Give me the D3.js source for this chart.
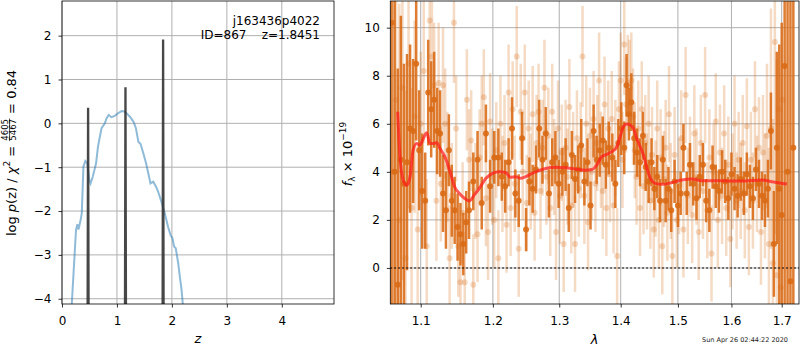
<!DOCTYPE html>
<html>
<head>
<meta charset="utf-8">
<title>Redshift fit</title>
<script src="https://cdn.jsdelivr.net/npm/d3@7"></script>
<style>
  body { margin: 0; background: #fff; }
  text { font-family: "DejaVu Sans", sans-serif; white-space: pre; }
</style>
</head>
<body>
<svg width="800" height="350" id="mainsvg"></svg>
<script>
// ---- left panel: log p(z)
const zGrid = [0.17, 0.255, 0.28, 0.30, 0.34, 0.36, 0.39, 0.424, 0.46, 0.497, 0.52, 0.56, 0.62, 0.655, 0.69, 0.72, 0.78, 0.81, 0.85, 0.90, 0.96, 1.02, 1.085, 1.13, 1.175, 1.236, 1.30, 1.345, 1.39, 1.43, 1.48, 1.53, 1.57, 1.61, 1.66, 1.71, 1.75, 1.81, 1.87, 1.93, 1.975, 2.01, 2.04, 2.07, 2.115, 2.145, 2.176, 2.21];
const logpZ = [-4.3, -2.43, -2.30, -2.42, -2.2, -2.05, -0.99, -0.86, -0.91, -1.29, -1.37, -1.22, -0.91, -0.53, -0.30, -0.11, 0.0, 0.11, 0.19, 0.14, 0.17, 0.23, 0.28, 0.27, 0.23, 0.15, 0.04, -0.11, -0.42, -0.47, -0.68, -0.91, -1.14, -1.37, -1.33, -1.44, -1.56, -1.79, -2.05, -2.36, -2.55, -2.62, -2.81, -2.85, -3.19, -3.50, -3.80, -4.3];
const spikeZ = [0.475, 1.155, 1.84];
const spikePeak = [0.33, 0.80, 1.89];
const zTicks = [0, 1, 2, 3, 4];
const logpTicks = [-4, -3, -2, -1, 0, 1, 2];

// ---- right panel: spectrum
const modelLam = [1.0699, 1.0728, 1.077, 1.0815, 1.086, 1.090, 1.0947, 1.099, 1.1035, 1.108, 1.1124, 1.117, 1.1213, 1.1258, 1.1325, 1.139, 1.1459, 1.1526, 1.1596, 1.1665, 1.1735, 1.1806, 1.190, 1.1996, 1.2093, 1.219, 1.226, 1.2335, 1.241, 1.2484, 1.2584, 1.2685, 1.2787, 1.294, 1.3096, 1.3254, 1.3414, 1.3521, 1.3602, 1.3684, 1.3767, 1.385, 1.3934, 1.399, 1.4046, 1.4102, 1.416, 1.4217, 1.4274, 1.4333, 1.439, 1.445, 1.451, 1.4597, 1.4714, 1.489, 1.507, 1.525, 1.5434, 1.568, 1.5936, 1.626, 1.6596, 1.680, 1.7106];
const modelFlux = [6.5, 4.63, 3.66, 3.44, 3.80, 4.91, 5.18, 5.11, 5.39, 5.63, 5.18, 5.18, 5.21, 4.98, 4.63, 4.07, 3.38, 3.10, 2.90, 2.79, 3.04, 3.31, 3.73, 3.94, 4.00, 3.96, 3.77, 3.80, 3.73, 3.80, 3.94, 4.05, 4.14, 4.19, 4.17, 4.12, 4.07, 4.10, 4.28, 4.63, 4.73, 4.84, 5.04, 5.46, 5.88, 5.99, 5.95, 5.81, 5.39, 5.04, 4.70, 4.15, 3.73, 3.52, 3.48, 3.55, 3.66, 3.70, 3.63, 3.63, 3.62, 3.62, 3.66, 3.59, 3.49];

const darkLam = [1.062, 1.066, 1.070, 1.074, 1.078, 1.082, 1.086, 1.090, 1.094, 1.098, 1.102, 1.106, 1.110, 1.114, 1.118, 1.122, 1.126, 1.130, 1.134, 1.138, 1.142, 1.146, 1.150, 1.154, 1.158, 1.162, 1.166, 1.172, 1.178, 1.184, 1.190, 1.196, 1.202, 1.208, 1.213, 1.218, 1.223, 1.228, 1.233, 1.238, 1.243, 1.249, 1.254, 1.259, 1.264, 1.269, 1.274, 1.279, 1.284, 1.289, 1.294, 1.299, 1.305, 1.310, 1.315, 1.320, 1.325, 1.330, 1.335, 1.340, 1.345, 1.350, 1.355, 1.360, 1.365, 1.370, 1.375, 1.380, 1.386, 1.391, 1.396, 1.401, 1.406, 1.410, 1.414, 1.418, 1.423, 1.428, 1.433, 1.438, 1.443, 1.448, 1.453, 1.458, 1.463, 1.468, 1.473, 1.478, 1.483, 1.488, 1.494, 1.500, 1.505, 1.510, 1.516, 1.522, 1.528, 1.534, 1.540, 1.546, 1.552, 1.558, 1.564, 1.570, 1.576, 1.582, 1.588, 1.594, 1.600, 1.606, 1.612, 1.618, 1.624, 1.630, 1.636, 1.642, 1.648, 1.654, 1.660, 1.666, 1.672, 1.678, 1.684, 1.690, 1.695, 1.700, 1.706, 1.712, 1.718, 1.724];
const darkFlux = [10.2, 4.0, -0.7, 4.5, 3.5, 4.4, 5.8, 5.7, 8.5, 4.9, 3.2, 2.8, 7.3, 6.6, 7.0, 5.7, 5.6, 3.1, 2.4, 4.9, 2.8, 2.4, 1.7, 1.4, 1.0, 1.9, 2.4, 3.6, 4.5, 2.7, 5.6, 3.4, 4.6, 4.6, 3.8, 3.4, 4.4, 5.8, 3.1, 2.8, 5.4, 1.6, 3.6, 3.3, 4.1, 5.8, 4.5, 5.6, 3.1, 4.4, 4.6, 3.5, 4.0, 4.3, 2.5, 4.7, 3.7, 4.1, 5.1, 3.6, 4.4, 2.6, 5.7, 4.5, 4.9, 5.3, 4.3, 5.0, 4.6, 3.5, 5.2, 5.8, 5.0, 7.6, 6.4, 6.9, 5.4, 4.8, 4.4, 5.5, 4.2, 3.6, 4.4, 3.3, 3.8, 2.8, 4.5, 2.8, 3.3, 2.4, 3.6, 2.6, 3.1, 5.0, 3.1, 4.3, 3.5, 2.9, 3.8, 4.3, 2.8, 2.4, 4.2, 3.4, 3.2, 4.0, 3.6, 2.9, 3.9, 3.3, 3.0, 3.7, 3.1, 3.9, 3.4, 2.9, 4.1, 3.5, 3.0, 2.8, 3.3, 5.7, 1.0, 5.0, 3.3, 2.2, 8.4, 4.0, -0.55, 5.0];
const darkErr = [12, 11, 9, 6, 5, 4.5, 3.5, 3.0, 3.2, 2.5, 2.4, 2.0, 2.2, 2.0, 2.0, 1.8, 1.8, 1.6, 1.6, 1.5, 1.5, 1.4, 1.4, 1.3, 1.3, 1.3, 1.2, 1.2, 1.2, 1.1, 1.2, 1.1, 1.1, 1.2, 1.0, 1.1, 1.0, 1.3, 1.0, 1.1, 1.1, 0.9, 1.0, 1.0, 1.0, 1.2, 1.0, 1.1, 1.0, 1.0, 1.1, 1.0, 1.0, 1.1, 1.0, 1.0, 1.0, 1.0, 1.1, 1.0, 1.0, 1.0, 1.1, 1.0, 1.1, 1.0, 1.0, 1.1, 1.0, 1.0, 1.0, 1.1, 1.1, 1.3, 1.1, 1.2, 1.1, 1.0, 1.0, 1.0, 1.0, 0.9, 1.0, 0.9, 0.9, 0.9, 1.0, 0.9, 0.9, 0.9, 0.9, 0.9, 0.9, 1.0, 0.9, 0.9, 0.9, 0.9, 0.9, 0.9, 0.9, 0.9, 0.9, 0.9, 0.9, 0.9, 0.9, 0.9, 0.9, 0.9, 0.9, 0.9, 0.9, 0.9, 0.9, 0.9, 0.9, 1.0, 1.0, 1.1, 1.2, 1.6, 2.2, 4, 6, 8, 10, 12, 12, 14];

const lightLam = [1.064, 1.068, 1.072, 1.076, 1.080, 1.084, 1.088, 1.092, 1.096, 1.100, 1.104, 1.108, 1.112, 1.115, 1.118, 1.121, 1.124, 1.127, 1.130, 1.133, 1.136, 1.139, 1.142, 1.145, 1.148, 1.151, 1.154, 1.157, 1.160, 1.163, 1.166, 1.169, 1.172, 1.175, 1.178, 1.181, 1.184, 1.187, 1.190, 1.193, 1.196, 1.199, 1.202, 1.205, 1.208, 1.211, 1.214, 1.217, 1.220, 1.223, 1.226, 1.229, 1.232, 1.235, 1.238, 1.241, 1.244, 1.247, 1.250, 1.253, 1.256, 1.259, 1.262, 1.265, 1.268, 1.271, 1.274, 1.277, 1.280, 1.283, 1.286, 1.289, 1.292, 1.295, 1.298, 1.301, 1.304, 1.307, 1.310, 1.313, 1.316, 1.319, 1.322, 1.325, 1.328, 1.331, 1.334, 1.337, 1.340, 1.343, 1.346, 1.349, 1.352, 1.355, 1.358, 1.361, 1.364, 1.367, 1.370, 1.373, 1.376, 1.379, 1.382, 1.385, 1.388, 1.391, 1.394, 1.397, 1.400, 1.403, 1.406, 1.409, 1.412, 1.415, 1.418, 1.421, 1.424, 1.427, 1.430, 1.433, 1.436, 1.439, 1.442, 1.445, 1.448, 1.451, 1.454, 1.457, 1.460, 1.463, 1.466, 1.469, 1.472, 1.475, 1.478, 1.481, 1.484, 1.487, 1.490, 1.494, 1.498, 1.502, 1.506, 1.510, 1.514, 1.518, 1.522, 1.526, 1.530, 1.534, 1.538, 1.542, 1.546, 1.550, 1.554, 1.558, 1.562, 1.566, 1.570, 1.574, 1.578, 1.582, 1.586, 1.590, 1.594, 1.598, 1.602, 1.606, 1.610, 1.614, 1.618, 1.622, 1.626, 1.630, 1.634, 1.638, 1.642, 1.646, 1.650, 1.654, 1.658, 1.662, 1.666, 1.670, 1.674, 1.678, 1.682, 1.686, 1.690, 1.694, 1.698, 1.702];
const lightFlux = [4.0, 7.0, 2.0, 7.5, 0.4, 8.5, 2.5, 6.3, 1.6, 6.0, 8.2, 0.9, 10.3, 8.8, 7.6, 2.8, 7.7, 3.5, 7.6, 6.0, 4.2, 0.4, 3.0, 10.2, 5.8, 0.9, -0.6, 2.3, -0.6, 7.0, 4.5, 5.3, -0.7, 3.2, 1.4, 4.6, 6.0, 7.1, 2.9, 1.5, 6.1, 3.8, 2.0, 4.9, 0.4, 6.0, 3.5, 5.2, 1.8, 7.3, 2.5, 6.6, 3.5, 8.8, 0.8, 6.5, 4.0, 7.3, 2.7, 5.8, 3.6, 6.4, 2.3, 5.2, 6.5, 3.2, 5.0, 7.5, 3.8, 5.5, 2.5, 6.5, 4.2, 1.5, 5.8, 3.0, 4.8, 1.0, 5.0, 3.8, 6.7, 2.6, 4.5, 1.0, 5.4, 3.3, 4.9, 8.8, 3.0, 6.0, 1.9, 5.5, 4.0, 6.2, 3.5, 5.2, 7.8, 4.5, 3.2, 6.8, 2.5, 5.8, 3.9, 6.2, 2.6, 5.0, 0.5, 6.6, 7.8, 4.5, 9.3, 6.8, 7.7, 7.5, 7.8, 6.3, 4.9, 3.8, 5.8, 2.5, 6.6, 3.4, 5.2, 3.6, 6.0, 2.8, 4.7, 1.6, 3.3, 5.8, 2.0, 4.6, 0.9, 3.7, 5.0, 2.3, 6.4, 3.2, 0.5, 4.7, 2.0, 3.4, 5.4, 1.6, 7.2, 3.0, 4.3, 2.2, 5.6, 3.8, 1.5, 5.2, 3.2, 7.2, 2.4, 4.6, 0.6, 4.0, 6.1, 2.0, 4.8, 3.0, 5.6, 2.5, 4.3, 1.2, 3.6, 6.0, 2.8, 4.5, 3.2, 5.2, 2.4, 5.9, 1.7, 4.5, 2.8, 6.6, 3.5, 5.0, 1.5, 4.8, 3.0, 5.5, 1.0, 5.8, 0.2, 9.4, -0.3, 6.6, -0.8, 7.0];
const lightErr = [12, 10, 9, 8, 7, 6, 5, 4, 3.5, 3, 3, 2.8, 3, 2.8, 2.6, 2.5, 2.5, 2.4, 2.4, 2.3, 2.3, 2.2, 2.2, 2.5, 2.2, 2.1, 2.1, 2.1, 2.1, 2.1, 2.1, 2.1, 2.1, 2.0, 2.0, 2.0, 2.0, 2.0, 2.0, 2.0, 2.0, 2.0, 2.0, 2.0, 2.0, 2.0, 2.0, 2.0, 2.0, 2.0, 2.0, 2.0, 2.0, 2.1, 2.0, 2.0, 2.0, 2.0, 2.0, 2.0, 2.0, 2.0, 2.0, 2.0, 2.0, 2.0, 2.0, 2.0, 2.0, 2.0, 2.0, 2.0, 2.0, 2.0, 2.0, 2.0, 2.0, 2.0, 2.0, 2.0, 2.0, 2.0, 2.0, 2.0, 2.0, 2.0, 2.0, 2.1, 2.0, 2.0, 2.0, 2.0, 2.0, 2.0, 2.0, 2.0, 2.0, 2.0, 2.0, 2.0, 2.0, 2.0, 2.0, 2.0, 2.0, 2.0, 2.0, 2.0, 2.0, 2.0, 2.1, 2.0, 2.0, 2.0, 2.0, 2.0, 2.0, 2.0, 2.0, 2.0, 2.0, 2.0, 2.0, 2.0, 2.0, 2.0, 2.0, 2.0, 2.0, 2.0, 2.0, 2.0, 2.0, 2.0, 2.0, 2.0, 2.0, 2.0, 2.0, 2.0, 2.0, 2.0, 2.0, 2.0, 2.0, 2.0, 2.0, 2.0, 2.0, 2.0, 2.0, 2.0, 2.0, 2.0, 2.0, 2.0, 2.0, 2.0, 2.0, 2.0, 2.0, 2.0, 2.0, 2.0, 2.0, 2.0, 2.0, 2.0, 2.0, 2.0, 2.0, 2.0, 2.0, 2.0, 2.0, 2.0, 2.0, 2.0, 2.0, 2.1, 2.2, 2.4, 2.6, 3.0, 4, 5, 6, 8, 9];
const lamTicks = [1.1, 1.2, 1.3, 1.4, 1.5, 1.6, 1.7];
const fluxTicks = [0, 2, 4, 6, 8, 10];

const svg = d3.select('#mainsvg');
const boxL = { x0: 62, x1: 334, y0: 1, y1: 304 };
const boxR = { x0: 390.3, x1: 799, y0: 1, y1: 304 };
const orange = '#d96a14';
const gridColor = '#b0b0b0';

const xZ = d3.scaleLinear().domain([0, 4.95]).range([boxL.x0, boxL.x1]);
const yZ = d3.scaleLinear().domain([-4.12, 2.79]).range([boxL.y1, boxL.y0]);
const xLam = d3.scaleLog().domain([1.0604, 1.7358]).range([boxR.x0, boxR.x1]);
const yFlux = d3.scaleLinear().domain([-1.5, 11.11]).range([boxR.y1, boxR.y0]);

const defs = svg.append('defs');
[['clipL', boxL], ['clipR', boxR]].forEach(([id, b]) => {
    defs.append('clipPath').attr('id', id).append('rect')
        .attr('x', b.x0).attr('y', b.y0).attr('width', b.x1 - b.x0).attr('height', b.y1 - b.y0);
});

// grid lines under the data
const drawGrid = function (xs, ys, xt, yt, b) {
    const g = svg.append('g');
    g.selectAll('.vg').data(xt).join('line').attr('class', 'vg')
        .attr('x1', d => xs(d)).attr('x2', d => xs(d)).attr('y1', b.y0).attr('y2', b.y1)
        .attr('stroke', gridColor).attr('stroke-width', 1);
    g.selectAll('.hg').data(yt).join('line').attr('class', 'hg')
        .attr('x1', b.x0).attr('x2', b.x1).attr('y1', d => ys(d)).attr('y2', d => ys(d))
        .attr('stroke', gridColor).attr('stroke-width', 1);
};
drawGrid(xZ, yZ, zTicks, logpTicks, boxL);
drawGrid(xLam, yFlux, lamTicks, fluxTicks, boxR);

// ---- left panel content
const gL = svg.append('g').attr('clip-path', 'url(#clipL)');
const pzLine = d3.line().x(d => xZ(d[0])).y(d => yZ(d[1]));
gL.append('path').datum(zGrid.map((z, i) => [z, logpZ[i]]))
    .attr('d', pzLine).attr('fill', 'none')
    .attr('stroke', '#1f77b4').attr('stroke-opacity', 0.5).attr('stroke-width', 2);
spikeZ.forEach((z, i) => {
    const pts = [[z - 0.012, -4.5], [z - 0.003, spikePeak[i]], [z + 0.003, spikePeak[i]], [z + 0.012, -4.5]];
    gL.append('path').datum(pts).attr('d', pzLine).attr('fill', 'none')
        .attr('stroke', '#333').attr('stroke-opacity', 0.9).attr('stroke-width', 2);
});

// ---- right panel content
const gR = svg.append('g').attr('clip-path', 'url(#clipR)');
const errSeries = function (lam, flux, err, op) {
    const pts = lam.map((l, i) => ({ l: l, f: flux[i], e: err[i] }));
    const g = gR.append('g');
    g.selectAll('line').data(pts).join('line')
        .attr('x1', d => xLam(d.l)).attr('x2', d => xLam(d.l))
        .attr('y1', d => yFlux(d.f - d.e)).attr('y2', d => yFlux(d.f + d.e))
        .attr('stroke', orange).attr('stroke-opacity', op).attr('stroke-width', 2.5);
    g.selectAll('circle').data(pts).join('circle')
        .attr('cx', d => xLam(d.l)).attr('cy', d => yFlux(d.f)).attr('r', 3)
        .attr('fill', orange).attr('fill-opacity', op);
};
errSeries(lightLam, lightFlux, lightErr, 0.25);
errSeries(darkLam, darkFlux, darkErr, 0.88);

gR.append('path').datum(modelLam.map((l, i) => [l, modelFlux[i]]))
    .attr('d', d3.line().curve(d3.curveMonotoneX).x(d => xLam(d[0])).y(d => yFlux(d[1])))
    .attr('fill', 'none').attr('stroke', '#ff1a1a').attr('stroke-opacity', 0.72).attr('stroke-width', 3);

gR.append('line').attr('x1', boxR.x0).attr('x2', boxR.x1)
    .attr('y1', yFlux(0)).attr('y2', yFlux(0))
    .attr('stroke', '#000').attr('stroke-opacity', 0.8).attr('stroke-width', 1.5)
    .attr('stroke-dasharray', '1.5,2.5');

// ---- axes and frames
const drawAxes = function (xs, ys, xt, yt, xfmt, b) {
    const xa = svg.append('g').attr('transform', `translate(0,${b.y1})`)
        .call(d3.axisBottom(xs).tickValues(xt).tickFormat(xfmt).tickSizeInner(3.5).tickSizeOuter(0).tickPadding(8.5));
    const ya = svg.append('g').attr('transform', `translate(${b.x0},0)`)
        .call(d3.axisLeft(ys).tickValues(yt).tickFormat(d3.format('d')).tickSizeInner(3.5).tickSizeOuter(0).tickPadding(7));
    [xa, ya].forEach(a => {
        a.select('.domain').remove();
        a.selectAll('line').attr('stroke', '#000').attr('stroke-width', 0.8);
        a.selectAll('text').attr('font-size', 12).attr('fill', '#000')
            .attr('font-family', '"DejaVu Sans", sans-serif');
    });
    svg.append('rect').attr('x', b.x0).attr('y', b.y0)
        .attr('width', b.x1 - b.x0).attr('height', b.y1 - b.y0)
        .attr('fill', 'none').attr('stroke', '#000').attr('stroke-width', 0.8);
};
drawAxes(xZ, yZ, zTicks, logpTicks, d3.format('d'), boxL);
drawAxes(xLam, yFlux, lamTicks, fluxTicks, d3.format('.1f'), boxR);

// ---- labels built from pieces (mathtext-like)
const richLabel = function (g, parts) {
    let x = 0;
    parts.forEach(p => {
        if (p.frac) {
            const num = g.append('text').attr('font-size', 8.5).attr('y', -7.3).text(p.frac[0]);
            const den = g.append('text').attr('font-size', 8.5).attr('y', 0.8).text(p.frac[1]);
            const w = Math.max(num.node().getComputedTextLength(), den.node().getComputedTextLength()) + 2;
            num.attr('x', x + w / 2).attr('text-anchor', 'middle');
            den.attr('x', x + w / 2).attr('text-anchor', 'middle');
            g.append('line').attr('x1', x + 0.5).attr('x2', x + w - 0.5).attr('y1', -5.9).attr('y2', -5.9)
                .attr('stroke', '#000').attr('stroke-width', 0.7);
            x += w;
            return;
        }
        const t = g.append('text').attr('x', x).attr('y', p.dy || 0)
            .attr('font-size', p.size || 13)
            .attr('font-style', p.italic ? 'italic' : 'normal').text(p.t);
        x += t.node().getComputedTextLength();
    });
    return x;
};

const yLabL = svg.append('g');
const wL = richLabel(yLabL, [
    { t: 'log ' }, { t: 'p', italic: true }, { t: '(z) / ' }, { t: 'χ', italic: true },
    { t: '2', size: 9, dy: -5.5 }, { t: ' = ' }, { frac: ['4605', '5467'] }, { t: ' = 0.84' }
]);
yLabL.attr('transform', `translate(15.5,${153 + wL / 2}) rotate(-90)`);

const yLabR = svg.append('g');
const wR = richLabel(yLabR, [
    { t: 'f', italic: true }, { t: 'λ', size: 9, dy: 3 }, { t: ' × 10' }, { t: '−19', size: 9, dy: -5.5 }
]);
yLabR.attr('transform', `translate(351.5,${154 + wR / 2}) rotate(-90)`);

svg.append('text').attr('x', (boxL.x0 + boxL.x1) / 2).attr('y', 343)
    .attr('text-anchor', 'middle').attr('font-size', 13).attr('font-style', 'italic').text('z');
svg.append('text').attr('x', (boxR.x0 + boxR.x1) / 2).attr('y', 344)
    .attr('text-anchor', 'middle').attr('font-size', 13).attr('font-style', 'italic').text('λ');

svg.append('text').attr('x', 320).attr('y', 25).attr('text-anchor', 'end')
    .attr('font-size', 12).text('j163436p4022');
svg.append('text').attr('x', 320).attr('y', 38.5).attr('text-anchor', 'end')
    .attr('font-size', 12).text('ID=867    z=1.8451');

svg.append('text').attr('x', 788).attr('y', 341.5).attr('text-anchor', 'end')
    .attr('font-size', 6.5).attr('fill', '#222').text('Sun Apr 26 02:44:22 2020');
</script>
</body>
</html>
